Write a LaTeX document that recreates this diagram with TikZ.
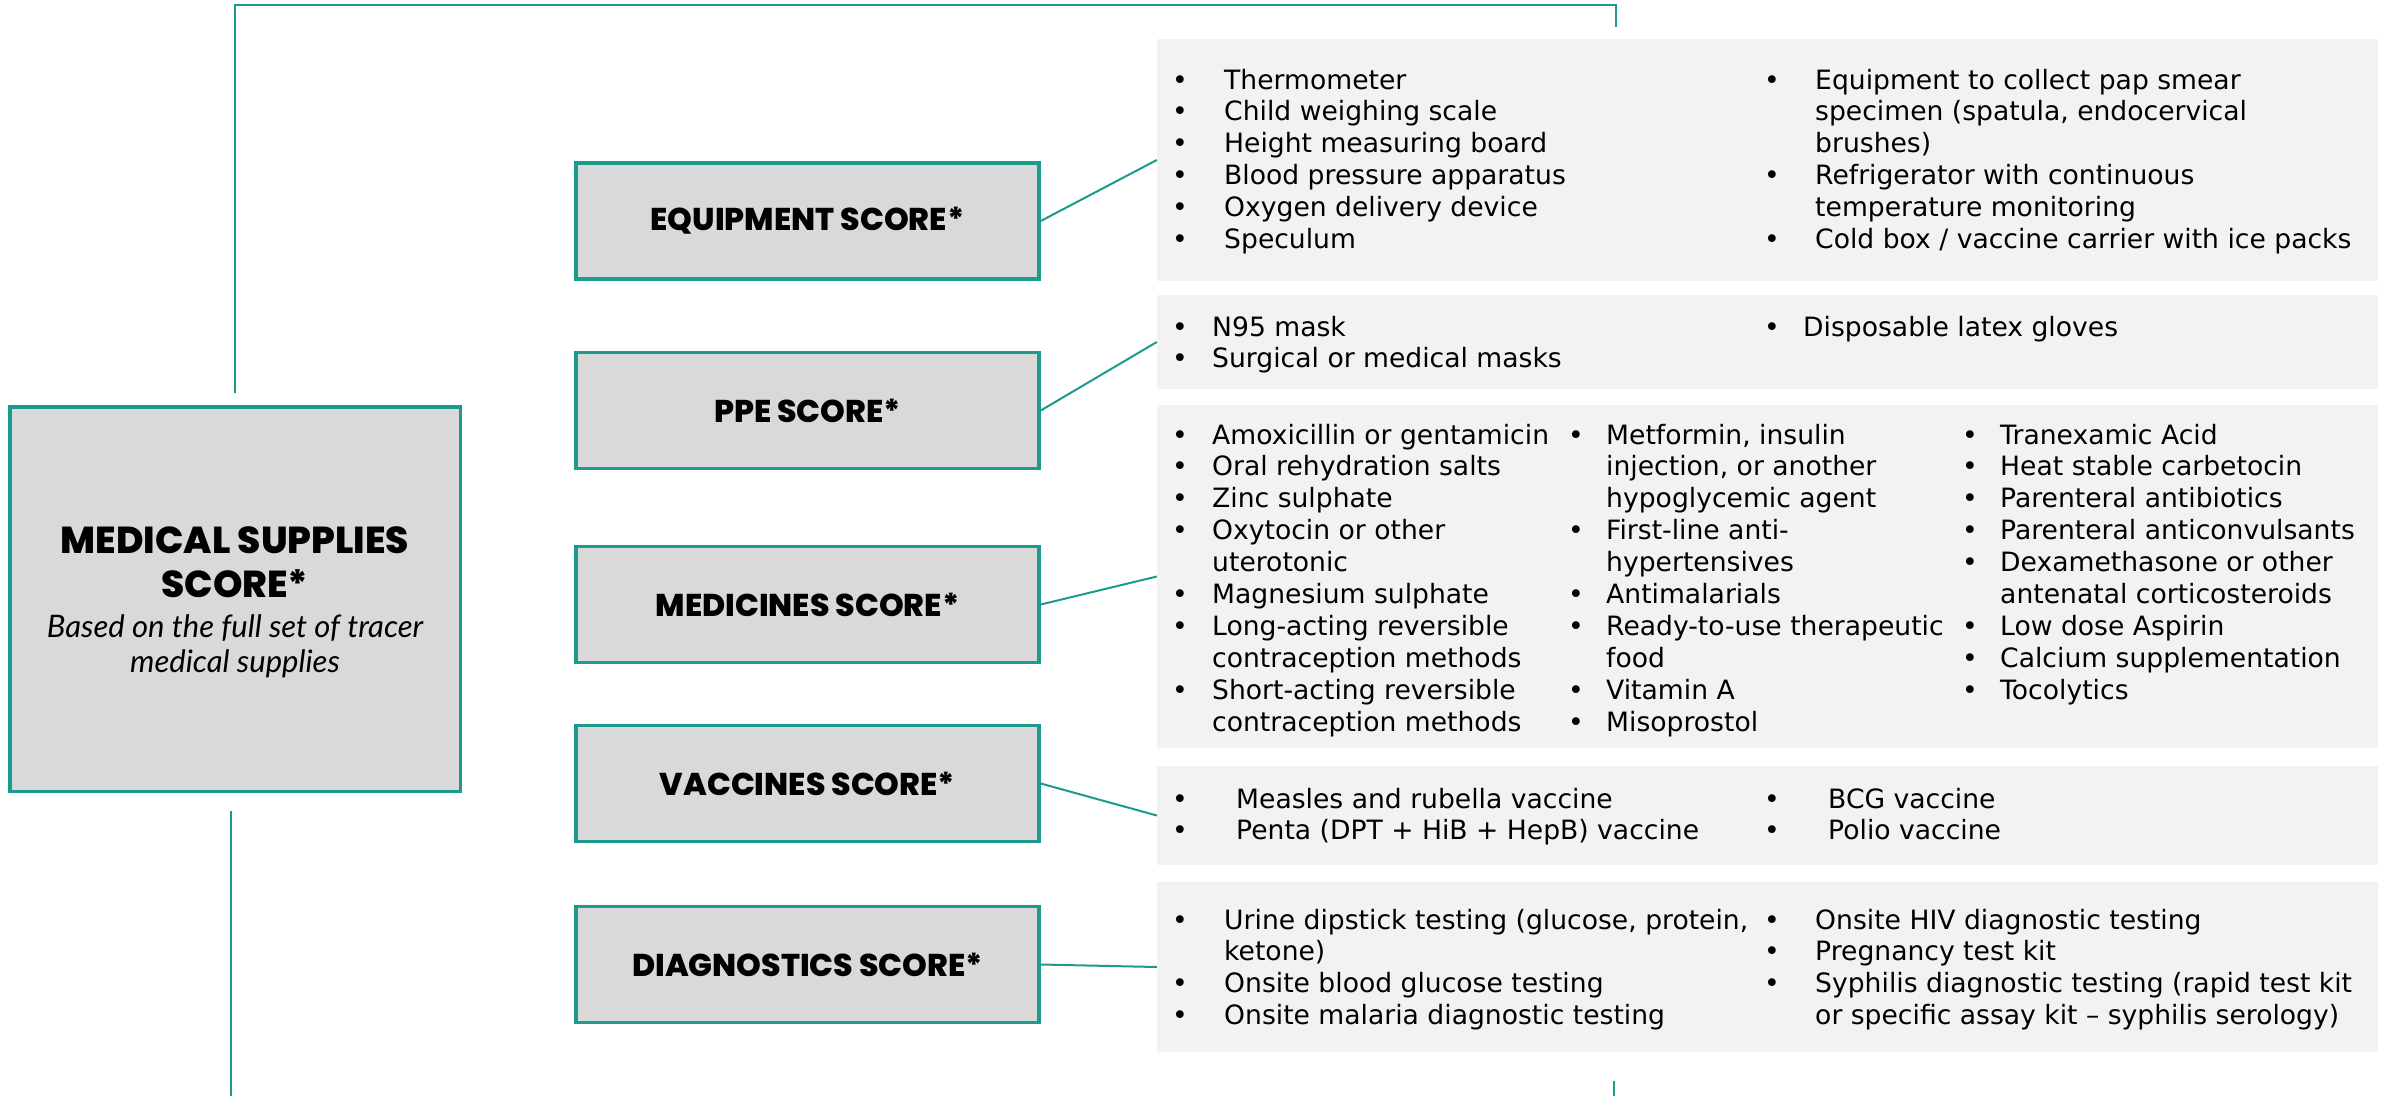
\documentclass[tikz,border=0pt]{standalone}
\usepackage{fontspec}
\setmainfont{DejaVu Sans}
\newfontfamily\popfont{Poppins ExtraBold}
\newfontfamily\latofont{Lato}
\definecolor{tealc}{RGB}{28,154,142}
\definecolor{boxgray}{RGB}{217,217,217}
\definecolor{listgray}{RGB}{242,242,242}
\newlength\bw
\newcommand\li[1]{\makebox[\bw][l]{•}#1}
\newcommand\ct[1]{\hspace*{\bw}#1}
\tikzset{
  catbox/.style={draw=tealc, line width=3.5pt, fill=boxgray, minimum width=463pt, minimum height=116pt, inner sep=0pt, font={\fontsize{31.5}{36}\popfont}},
  listbg/.style={fill=listgray, draw=none, inner sep=0pt, minimum width=1221pt},
  listcol/.style={anchor=base west, inner sep=0pt, font={\fontsize{26.6}{31.9}\selectfont}, execute at begin node={\setlength\bw{#1}}},
  conn/.style={draw=tealc, line width=2pt},
  framel/.style={draw=tealc, line width=2.5pt},
}
\begin{document}
\begin{tikzpicture}[x=1pt,y=-1pt]
\useasboundingbox (0,0) rectangle (2387,1095);
% frame lines
\coordinate (ftop) at (235,393);
\coordinate (fcorner) at (1616,5);
\coordinate (ftopend) at (1616,27);
\coordinate (fbotA) at (231,811);
\coordinate (fbotB) at (231,1096);
\coordinate (fbrA) at (1614,1081);
\coordinate (fbrB) at (1614,1096);
\draw[framel] (ftop) |- (fcorner) -- (ftopend);
\draw[framel] (fbotA) -- (fbotB);
\draw[framel] (fbrA) -- (fbrB);
% main box
\node[draw=tealc, line width=3.5pt, fill=boxgray, minimum width=450.5pt, minimum height=384.5pt, inner sep=0pt] (main) at (235,599) {};
\node[anchor=base, inner sep=0pt, font={\fontsize{37.5}{44}\popfont}] (mtitle) at (235,553) {\begin{tabular}[t]{@{}c@{}}MEDICAL SUPPLIES\\SCORE*\end{tabular}};
\node[anchor=base, inner sep=0pt, font={\fontsize{31}{35}\latofont\itshape}] (msub) at (235,637) {\begin{tabular}[t]{@{}c@{}}Based on the full set of tracer\\medical supplies\end{tabular}};
% category boxes
\node[catbox] (eq) at (807.5,221) {EQUIPMENT SCORE*};
\node[catbox] (ppe) at (807.5,410.5) {PPE SCORE*};
\node[catbox] (med) at (807.5,604.5) {MEDICINES SCORE*};
\node[catbox] (vac) at (807.5,783.5) {VACCINES SCORE*};
\node[catbox] (dia) at (807.5,964.5) {DIAGNOSTICS SCORE*};
% list backgrounds
\node[listbg, minimum height=242pt] (eqL) at (1767.5,160) {};
\node[listbg, minimum height=94pt] (ppeL) at (1767.5,342) {};
\node[listbg, minimum height=343pt] (medL) at (1767.5,576.5) {};
\node[listbg, minimum height=99pt] (vacL) at (1767.5,815.5) {};
\node[listbg, minimum height=170pt] (diaL) at (1767.5,967) {};
% connectors
\draw[conn] (eq.east) -- (eqL.west);
\draw[conn] (ppe.east) -- (ppeL.west);
\draw[conn] (med.east) -- (medL.west);
\draw[conn] (vac.east) -- (vacL.west);
\draw[conn] (dia.east) -- (diaL.west);
% equipment lists
\node[listcol=52pt] (eqA) at (1172,89) {\begin{tabular}[t]{@{}l@{}}
\li{Thermometer}\\ \li{Child weighing scale}\\ \li{Height measuring board}\\ \li{Blood pressure apparatus}\\ \li{Oxygen delivery device}\\ \li{Speculum}\end{tabular}};
\node[listcol=51pt] (eqB) at (1764,89) {\begin{tabular}[t]{@{}l@{}}
\li{Equipment to collect pap smear}\\ \ct{specimen (spatula, endocervical}\\ \ct{brushes)}\\ \li{Refrigerator with continuous}\\ \ct{temperature monitoring}\\ \li{Cold box / vaccine carrier with ice packs}\end{tabular}};
% PPE lists
\node[listcol=40pt] (ppeA) at (1172,336) {\begin{tabular}[t]{@{}l@{}}
\li{N95 mask}\\ \li{Surgical or medical masks}\end{tabular}};
\node[listcol=39pt] (ppeB) at (1764,336) {\begin{tabular}[t]{@{}l@{}}
\li{Disposable latex gloves}\end{tabular}};
% medicines lists
\node[listcol=40pt] (medA) at (1172,444) {\begin{tabular}[t]{@{}l@{}}
\li{Amoxicillin or gentamicin}\\ \li{Oral rehydration salts}\\ \li{Zinc sulphate}\\ \li{Oxytocin or other}\\ \ct{uterotonic}\\ \li{Magnesium sulphate}\\ \li{Long-acting reversible}\\ \ct{contraception methods}\\ \li{Short-acting reversible}\\ \ct{contraception methods}\end{tabular}};
\node[listcol=38pt] (medB) at (1568,444) {\begin{tabular}[t]{@{}l@{}}
\li{Metformin, insulin}\\ \ct{injection, or another}\\ \ct{hypoglycemic agent}\\ \li{First-line anti-}\\ \ct{hypertensives}\\ \li{Antimalarials}\\ \li{Ready-to-use therapeutic}\\ \ct{food}\\ \li{Vitamin A}\\ \li{Misoprostol}\end{tabular}};
\node[listcol=38pt] (medC) at (1962,444) {\begin{tabular}[t]{@{}l@{}}
\li{Tranexamic Acid}\\ \li{Heat stable carbetocin}\\ \li{Parenteral antibiotics}\\ \li{Parenteral anticonvulsants}\\ \li{Dexamethasone or other}\\ \ct{antenatal corticosteroids}\\ \li{Low dose Aspirin}\\ \li{Calcium supplementation}\\ \li{Tocolytics}\end{tabular}};
% vaccines lists
\node[listcol=64pt] (vacA) at (1172,808) {\begin{tabular}[t]{@{}l@{}}
\li{Measles and rubella vaccine}\\ \li{Penta (DPT + HiB + HepB) vaccine}\end{tabular}};
\node[listcol=64pt] (vacB) at (1764,808) {\begin{tabular}[t]{@{}l@{}}
\li{BCG vaccine}\\ \li{Polio vaccine}\end{tabular}};
% diagnostics lists
\node[listcol=52pt] (diaA) at (1172,929) {\begin{tabular}[t]{@{}l@{}}
\li{Urine dipstick testing (glucose, protein,}\\ \ct{ketone)}\\ \li{Onsite blood glucose testing}\\ \li{Onsite malaria diagnostic testing}\end{tabular}};
\node[listcol=51pt] (diaB) at (1764,929) {\begin{tabular}[t]{@{}l@{}}
\li{Onsite HIV diagnostic testing}\\ \li{Pregnancy test kit}\\ \li{Syphilis diagnostic testing (rapid test kit}\\ \ct{or specific assay kit – syphilis serology)}\end{tabular}};
\end{tikzpicture}
\end{document}
